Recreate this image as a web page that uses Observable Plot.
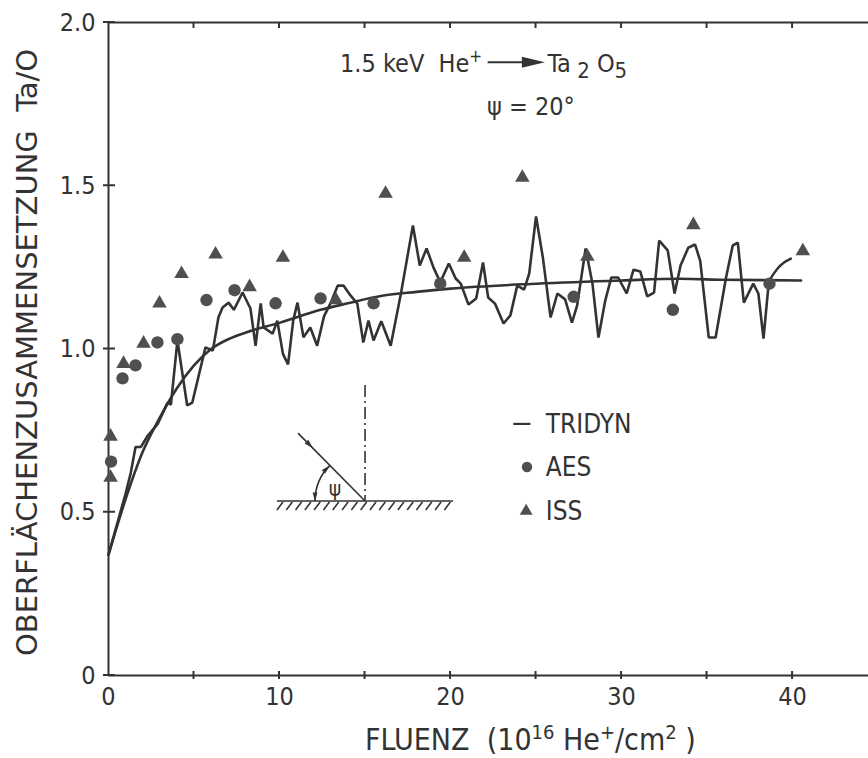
<!DOCTYPE html>
<html><head><meta charset="utf-8">
<script src="https://cdn.jsdelivr.net/npm/d3@7"></script>
<script src="https://cdn.jsdelivr.net/npm/@observablehq/plot@0.6"></script>
<style>
html,body{margin:0;padding:0;background:#fff;overflow:hidden}
#chart svg{display:block}
</style></head><body><div id="chart"></div>
<script>
const FONT = '"DejaVu Sans Condensed","Liberation Sans Narrow","DejaVu Sans",sans-serif';
const INK = "#333333";
const DOT = "#4f4f4f";

// ---- data ----
const tridynX = [0, 1.0, 1.3, 1.58, 1.9, 2.3, 2.87, 3.45, 3.65, 4.03, 4.6, 4.9, 5.67, 6.1, 6.43, 6.67, 7.02, 7.33, 7.84, 8.3, 8.6, 8.9, 9.07, 9.6, 9.87, 10.2, 10.5, 10.8, 11.05, 11.4, 11.8, 12.2, 12.6, 13.0, 13.4, 13.75, 14.15, 14.55, 14.9, 15.2, 15.5, 15.95, 16.5, 17.1, 17.8, 18.2, 18.6, 19.0, 19.4, 19.9, 20.3, 20.6, 21.05, 21.5, 21.9, 22.2, 22.6, 23.1, 23.5, 23.9, 24.3, 24.6, 25.0, 25.4, 25.85, 26.25, 26.7, 27.1, 27.4, 27.9, 28.3, 28.65, 29.05, 29.4, 29.8, 30.3, 30.7, 31.1, 31.5, 31.9, 32.2, 32.7, 33.1, 33.45, 33.9, 34.3, 34.6, 35.1, 35.5, 36.1, 36.5, 36.8, 37.15, 37.7, 38.0, 38.3, 38.6];
const tridynY = [0.37, 0.557, 0.62, 0.70, 0.70, 0.735, 0.77, 0.835, 0.83, 1.026, 0.827, 0.836, 1.005, 0.995, 1.097, 1.127, 1.142, 1.12, 1.173, 1.124, 1.01, 1.14, 1.066, 1.047, 1.087, 0.985, 0.953, 1.087, 1.142, 1.036, 1.066, 1.01, 1.10, 1.142, 1.194, 1.194, 1.164, 1.139, 1.02, 1.087, 1.026, 1.085, 1.01, 1.17, 1.378, 1.256, 1.308, 1.25, 1.204, 1.262, 1.216, 1.20, 1.136, 1.155, 1.265, 1.158, 1.139, 1.078, 1.103, 1.194, 1.182, 1.231, 1.406, 1.28, 1.097, 1.17, 1.152, 1.081, 1.133, 1.308, 1.20, 1.035, 1.149, 1.219, 1.219, 1.17, 1.243, 1.237, 1.161, 1.173, 1.332, 1.302, 1.17, 1.256, 1.31, 1.32, 1.27, 1.035, 1.035, 1.216, 1.317, 1.326, 1.142, 1.20, 1.17, 1.032, 1.20];
const tailX = [38.7, 39.1, 39.5, 39.9];
const tailY = [1.215, 1.245, 1.265, 1.277];

const fitX = [0, 1, 2, 3, 4, 5, 6, 7, 8, 10, 12.4, 14, 16, 18, 20, 25, 30, 33.4, 36, 40.5];
const fitY = [0.37, 0.54, 0.685, 0.79, 0.88, 0.95, 1.0, 1.03, 1.05, 1.08, 1.12, 1.14, 1.163, 1.175, 1.185, 1.20, 1.21, 1.215, 1.212, 1.21];

const aesX = [0.15, 0.82, 1.58, 2.86, 4.03, 5.73, 7.37, 9.77, 12.4, 15.5, 19.4, 27.2, 33.0, 38.65];
const aesY = [0.655, 0.91, 0.95, 1.02, 1.03, 1.15, 1.18, 1.14, 1.155, 1.14, 1.20, 1.16, 1.12, 1.20];

const issX = [0.12, 0.12, 0.88, 2.05, 2.98, 4.27, 6.26, 8.25, 10.2, 13.3, 16.2, 20.8, 24.2, 28.0, 34.2, 40.6];
const issY = [0.606, 0.732, 0.955, 1.017, 1.14, 1.23, 1.29, 1.19, 1.28, 1.15, 1.476, 1.28, 1.525, 1.283, 1.38, 1.30];

const xTickLabels = [0, 10, 20, 30, 40];
const xTicks = [0, 5, 10, 15, 20, 25, 30, 35, 40];
const yTicks = [0, 0.5, 1.0, 1.5, 2.0];
const yTickLabels = ["0", "0.5", "1.0", "1.5", "2.0"];
const legendLabels = ["TRIDYN", "AES", "ISS"];
const yTitle = "OBERFLÄCHENZUSAMMENSETZUNG  Ta/O";

const tridyn = tridynX.map((x, i) => ({x, y: tridynY[i]}));
const tail = tailX.map((x, i) => ({x, y: tailY[i]}));
const fit = fitX.map((x, i) => ({x, y: fitY[i]}));
const aes = aesX.map((x, i) => ({x, y: aesY[i]}));
const iss = issX.map((x, i) => ({x, y: issY[i]}));

const plot = Plot.plot({
  width: 868, height: 758,
  marginLeft: 108, marginRight: 0, marginTop: 22, marginBottom: 83,
  x: {domain: [0, 44.44]},
  y: {domain: [0, 2]},
  style: {fontFamily: FONT, background: "#fff", color: INK},
  marks: [
    Plot.ruleY([0, 2], {stroke: INK, strokeWidth: 2}),
    Plot.ruleX([0], {stroke: INK, strokeWidth: 2}),
    Plot.axisX({ticks: xTickLabels, tickSize: 0, tickPadding: 12, fontSize: 25, label: null}),
    Plot.axisY({ticks: yTicks, tickFormat: d => yTickLabels[yTicks.indexOf(d)], tickSize: 0, tickPadding: 13, fontSize: 25, label: null}),
    Plot.line(fit, {x: "x", y: "y", curve: "monotone-x", stroke: INK, strokeWidth: 2.6}),
    Plot.line(tridyn, {x: "x", y: "y", stroke: INK, strokeWidth: 2.6, strokeLinejoin: "miter"}),
    Plot.line(tail, {x: "x", y: "y", curve: "natural", stroke: INK, strokeWidth: 2.4}),
    Plot.dot(aes, {x: "x", y: "y", r: 6.2, fill: DOT, stroke: "none"}),
    Plot.dot(iss, {x: "x", y: "y", symbol: "triangle", r: 5.4, fill: DOT, stroke: "none"})
  ]
});
document.getElementById("chart").appendChild(plot);

// ---- decorations drawn through the plot's scales ----
const sx = plot.scale("x"), sy = plot.scale("y");
const X = v => sx.apply(v), Y = v => sy.apply(v);
const svg = d3.select(plot);

const tk = svg.append("g").attr("stroke", INK).attr("stroke-width", 2).attr("fill", "none");
xTicks.slice(1).forEach(t => {
  tk.append("line").attr("x1", X(t)).attr("x2", X(t)).attr("y1", Y(0) - 4).attr("y2", Y(0) + 4);
  tk.append("line").attr("x1", X(t)).attr("x2", X(t)).attr("y1", Y(2)).attr("y2", Y(2) + 6);
});
yTicks.forEach(t => {
  tk.append("line").attr("x1", X(0) - 5).attr("x2", X(0) + 7).attr("y1", Y(t)).attr("y2", Y(t));
});

const txt = svg.append("g").attr("fill", INK).attr("font-family", FONT).attr("stroke", "none")
  .attr("text-anchor", "start");

// y title
txt.append("text")
  .attr("transform", `translate(37,${(Y(0) + Y(2)) / 2 + 4}) rotate(-90)`)
  .attr("text-anchor", "middle").attr("font-size", 29)
  .attr("textLength", 607).attr("lengthAdjust", "spacingAndGlyphs")
  .text(yTitle);

// x title
const xt = txt.append("text").attr("x", 365).attr("y", 750).attr("font-size", 30);
xt.append("tspan").text("FLUENZ  (10");
xt.append("tspan").attr("dy", -11).attr("font-size", 20).text("16");
xt.append("tspan").attr("dy", 11).text(" He");
xt.append("tspan").attr("dy", -11).attr("font-size", 20).text("+");
xt.append("tspan").attr("dy", 11).text("/cm");
xt.append("tspan").attr("dy", -11).attr("font-size", 20).text("2");
xt.append("tspan").attr("dy", 11).text(" )");

// title inside plot
const t1 = txt.append("text").attr("x", X(13.57)).attr("y", Y(1.847)).attr("font-size", 25);
t1.append("tspan").text("1.5 keV  He");
t1.append("tspan").attr("dy", -10).attr("font-size", 17).text("+");
svg.append("line").attr("x1", X(22.2)).attr("x2", X(24.4)).attr("y1", Y(1.877)).attr("y2", Y(1.877))
  .attr("stroke", INK).attr("stroke-width", 2);
svg.append("path").attr("fill", INK)
  .attr("d", `M${X(24.2)},${Y(1.877) - 5.5}L${X(25.55)},${Y(1.877)}L${X(24.2)},${Y(1.877) + 5.5}Z`);
const t2 = txt.append("text").attr("x", X(25.7)).attr("y", Y(1.847)).attr("font-size", 25);
t2.append("tspan").text("Ta");
t2.append("tspan").attr("dy", 6).attr("font-size", 22).text(" 2");
t2.append("tspan").attr("dy", -6).text(" O");
t2.append("tspan").attr("dy", 6).attr("font-size", 22).text("5");
txt.append("text").attr("x", X(22.16)).attr("y", Y(1.715)).attr("font-size", 25).text("ψ = 20°");

// legend
svg.append("line").attr("x1", X(23.7)).attr("x2", X(24.7)).attr("y1", Y(0.769)).attr("y2", Y(0.769))
  .attr("stroke", INK).attr("stroke-width", 2.2);
svg.append("path").attr("fill", DOT)
  .attr("transform", `translate(${X(24.5)},${Y(0.637)})`)
  .attr("d", d3.symbol(d3.symbolCircle, Math.PI * 5.2 * 5.2)());
svg.append("path").attr("fill", DOT)
  .attr("transform", `translate(${X(24.45)},${Y(0.502)})`)
  .attr("d", d3.symbol(d3.symbolTriangle, Math.PI * 4.8 * 4.8)());
[0.769, 0.637, 0.502].forEach((yy, i) => {
  txt.append("text").attr("x", X(25.6)).attr("y", Y(yy) + 9).attr("font-size", 26).text(legendLabels[i]);
});

// inset: incidence geometry
const ix = X(15.03), iy = Y(0.533);
const ins = svg.append("g").attr("stroke", INK).attr("fill", "none").attr("stroke-width", 1.6);
ins.append("line").attr("x1", X(9.88)).attr("x2", X(20.18)).attr("y1", iy).attr("y2", iy);
d3.range(X(9.88) + 6, X(20.18), 9.3).forEach(hx => {
  ins.append("line").attr("x1", hx).attr("x2", hx - 6).attr("y1", iy + 1).attr("y2", iy + 9);
});
ins.append("line").attr("x1", ix).attr("x2", ix).attr("y1", Y(0.888)).attr("y2", iy)
  .attr("stroke-dasharray", "12,4,2,4");
const bx = X(11.11), by = Y(0.741);
ins.append("line").attr("x1", bx).attr("x2", ix).attr("y1", by).attr("y2", iy);
const ang = Math.atan2(iy - by, ix - bx);
const ax = bx + 0.22 * (ix - bx), ay = by + 0.22 * (iy - by);
const ah = (x, y, a, L, W) => `M${x},${y}L${x - L * Math.cos(a) + W * Math.sin(a)},${y - L * Math.sin(a) - W * Math.cos(a)}L${x - L * Math.cos(a) - W * Math.sin(a)},${y - L * Math.sin(a) + W * Math.cos(a)}Z`;
ins.append("path").attr("fill", INK).attr("stroke", "none").attr("d", ah(ax, ay, ang, 9, 2.6));
const R = 50;
const a0 = Math.PI, a1 = Math.atan2(by - iy, bx - ix) + 2 * Math.PI;
const p0 = [ix + R * Math.cos(a0), iy + R * Math.sin(a0)];
const p1 = [ix + R * Math.cos(a1), iy + R * Math.sin(a1)];
ins.append("path").attr("d", `M${p0[0]},${p0[1]}A${R},${R} 0 0 1 ${p1[0]},${p1[1]}`);
ins.append("path").attr("fill", INK).attr("stroke", "none").attr("d", ah(p0[0], p0[1] + 0.5, Math.PI / 2, 9, 2.4));
ins.append("path").attr("fill", INK).attr("stroke", "none").attr("d", ah(p1[0], p1[1], a1 - Math.PI / 2 + Math.PI, 9, 2.4));
txt.append("text").attr("x", ix - 30).attr("y", iy - 5).attr("text-anchor", "middle").attr("font-size", 21).text("ψ");
</script></body></html>
